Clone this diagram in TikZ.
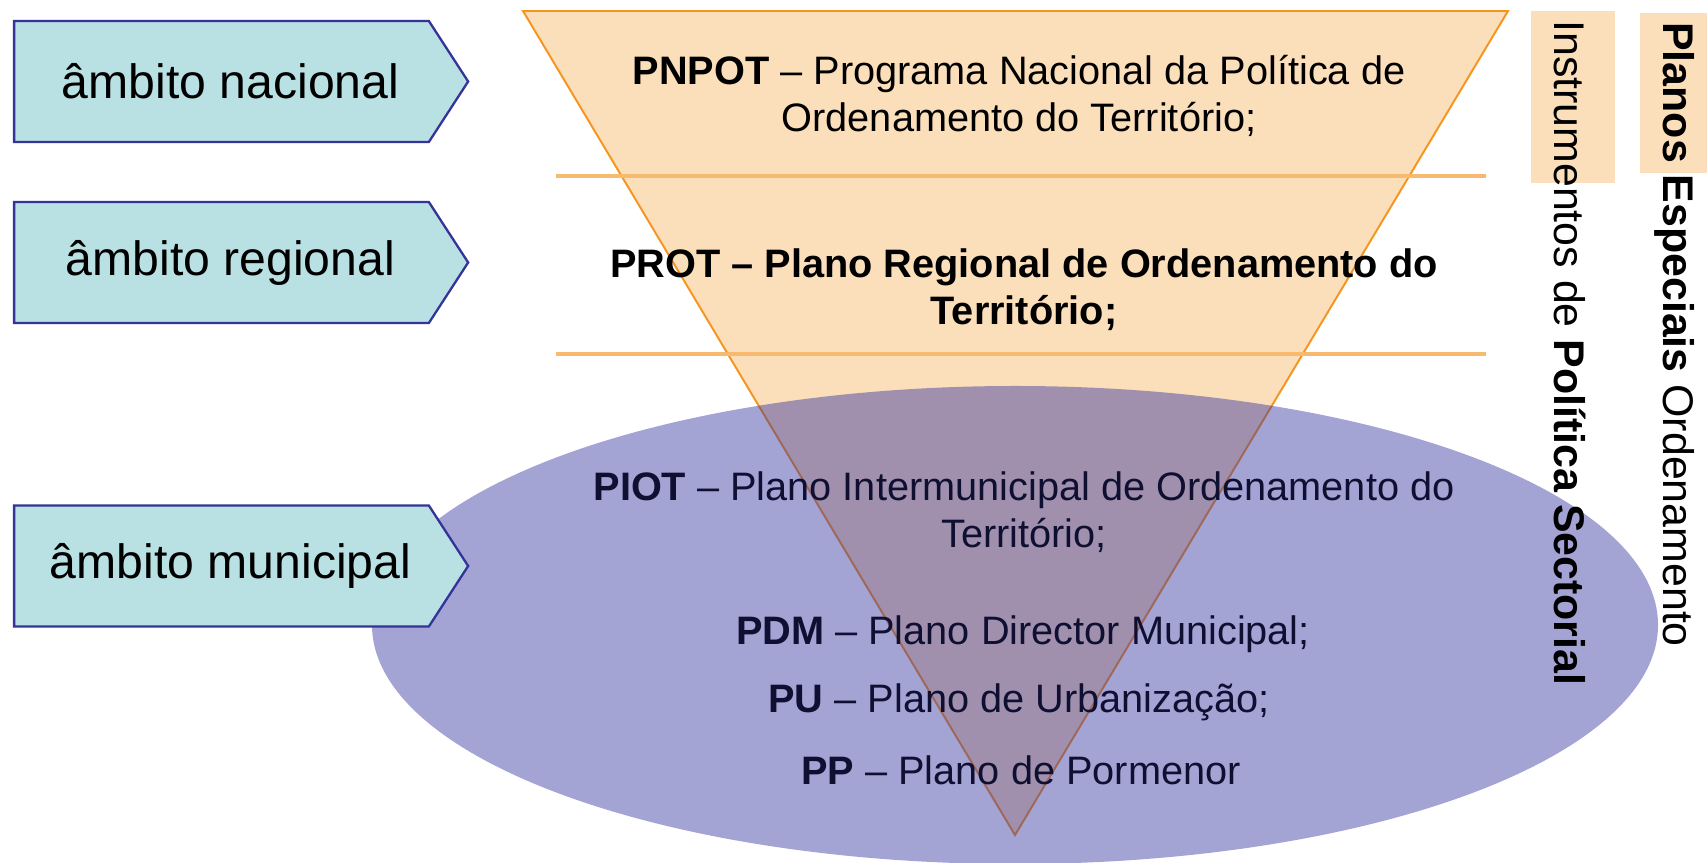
\documentclass[tikz,border=0pt]{standalone}
\usepackage{fontspec}
\setmainfont{Liberation Sans}
\usetikzlibrary{shapes.symbols}

\definecolor{boxfill}{RGB}{185,224,226}
\definecolor{boxline}{RGB}{51,51,153}
\definecolor{peach}{RGB}{251,222,186}
\definecolor{tridraw}{RGB}{247,148,30}
\definecolor{sepline}{RGB}{248,186,110}
\definecolor{ellfill}{RGB}{50,50,160}
\definecolor{navy}{RGB}{15,15,50}

\begin{document}
\begin{tikzpicture}[x=0.2mm, y=0.2mm,
  ambito/.style={draw=boxline, fill=boxfill, line width=1.3pt, signal, signal to=east,
    signal pointer angle=114, minimum width=90.8mm, minimum height=24.2mm, inner sep=0pt,
    font=\fontsize{27.4}{32}\selectfont},
  plano/.style={align=center, anchor=base, inner sep=0pt, font=\fontsize{22.6}{27.3}\selectfont},
  planobold/.style={plano, font=\fontsize{22.6}{27.3}\selectfont\bfseries},
  lateral/.style={rotate=-90, anchor=base west, inner sep=0pt, font=\fontsize{24.4}{30}\selectfont}]
\useasboundingbox (0,0) rectangle (1707,863);

% tabs behind the side titles
\fill[peach] (1531,680) rectangle (1615,852);
\fill[peach] (1640,690) rectangle (1707,850);

% inverted triangle with its two bands
\filldraw[fill=peach, draw=tridraw, line width=1.1pt] (523,852) -- (1508,852) -- (1015,28) -- cycle;
\draw[sepline, line width=2pt] (556,687) -- (1486,687);
\draw[sepline, line width=2pt] (556,509) -- (1486,509);

% base = last line
\node[plano] (pnpot) at (1019,731) {\textbf{PNPOT} – Programa Nacional da Política de\\Ordenamento do Território;};
\node[planobold] (prot) at (1024,538) {PROT – Plano Regional de Ordenamento do\\Território;};

% municipal ellipse
\fill[ellfill, opacity=0.45] (1015,238) ellipse [x radius=643, y radius=239];

\node[plano, text=navy] (piot) at (1024,315) {\textbf{PIOT} – Plano Intermunicipal de Ordenamento do\\Território;};
\node[plano, text=navy] (pdm) at (1023,218) {\textbf{PDM} – Plano Director Municipal;};
\node[plano, text=navy] (pu) at (1019,150) {\textbf{PU} – Plano de Urbanização;};
\node[plano, text=navy] (pp) at (1021,78) {\textbf{PP} – Plano de Pormenor};

% side titles
\node[lateral] (ips) at (1554,843) {Instrumentos de \textbf{Política Sectorial}};
\node[lateral] (peo) at (1663,841) {\textbf{Planos Especiais} Ordenamento};

% scale of each level
\node[ambito] (nac) at (221.5,781.5) {\hspace*{3.6mm}âmbito nacional};
\node[ambito] (reg) at (221.5,600.5) {\hspace*{3.6mm}âmbito regional};
\node[ambito] (mun) at (221.5,297) {\hspace*{3.6mm}âmbito municipal};
\end{tikzpicture}
\end{document}
